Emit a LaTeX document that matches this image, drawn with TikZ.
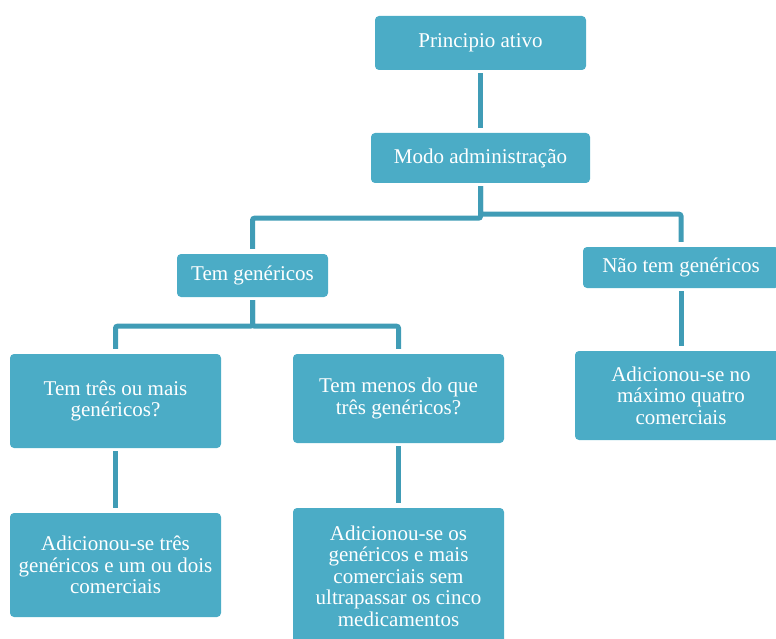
\documentclass[tikz,border=0pt]{standalone}
\usepackage{fontspec}
\setmainfont{Liberation Serif}
\definecolor{boxfill}{HTML}{4BACC6}
\definecolor{linkcol}{HTML}{409CB6}
\begin{document}
\begin{tikzpicture}[x=1pt,y=-1pt,
  box/.style={fill=boxfill, rounded corners=4pt, text=white, align=center,
    inner sep=0pt, font=\fontsize{21}{21.5}\selectfont},
  link/.style={draw=linkcol, line width=5pt, rounded corners=2pt,
    shorten <=3pt, shorten >=5pt}]
\useasboundingbox (0,0) rectangle (776,639);
\clip (0,0) rectangle (776,639);

% tree boxes
\node[box, minimum width=211pt, minimum height=54pt] (pa) at (480.5,43) {Principio ativo};
\node[box, minimum width=219pt, minimum height=50pt] (ma) at (480.5,158) {Modo administração};
\node[box, minimum width=151pt, minimum height=43pt] (tg) at (252.5,275.5) {Tem genéricos};
\node[box, minimum width=196pt, minimum height=41pt] (ntg) at (681,267.5) {Não tem genéricos};
\node[box, minimum width=211pt, minimum height=94pt] (t3) at (115.5,401) {Tem três ou mais\\genéricos?};
\node[box, minimum width=211pt, minimum height=89pt] (tm) at (398.5,398.5) {Tem menos do que\\três genéricos?};
\node[box, minimum width=212pt, minimum height=89pt] (nc) at (681,395.5) {Adicionou-se no\\máximo quatro\\comerciais};
\node[box, minimum width=211pt, minimum height=104pt] (a3) at (115.5,565) {Adicionou-se três\\genéricos e um ou dois\\comerciais};
\node[box, minimum width=211pt, minimum height=136pt] (am) at (398.5,576) {Adicionou-se os\\genéricos e mais\\comerciais sem\\ultrapassar os cinco\\medicamentos};

% connectors
\draw[link] (pa.south) -- (ma.north);
\draw[link] (ma.south) -- ++(0,35) -| (tg.north);
\draw[link] (ma.south) -- ++(0,31) -| (ntg.north);
\draw[link] (tg.south) -- ++(0,29) -| (t3.north);
\draw[link] (tg.south) -- ++(0,29) -| (tm.north);
\draw[link] (ntg.south) -- (nc.north);
\draw[link] (t3.south) -- (a3.north);
\draw[link] (tm.south) -- (am.north);
\end{tikzpicture}
\end{document}
